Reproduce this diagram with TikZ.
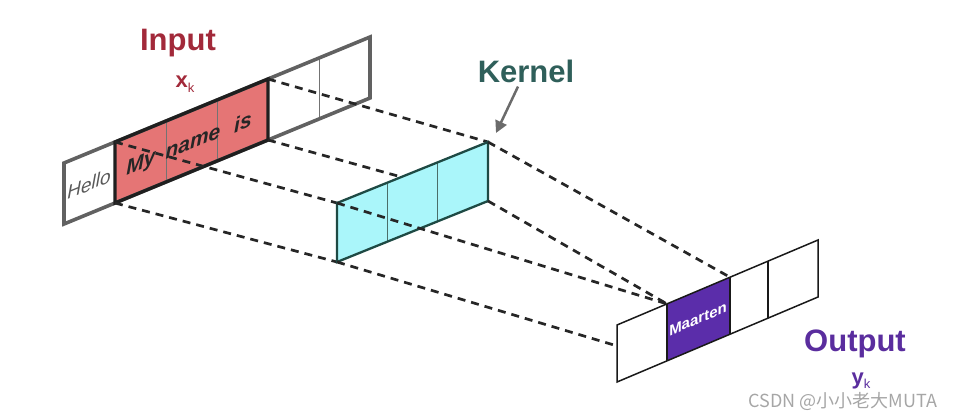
\documentclass[tikz,border=0pt]{standalone}
\usepackage{fontspec}
\setmainfont{Liberation Sans}
\newfontfamily\cjk{Noto Sans CJK SC}
\usetikzlibrary{arrows.meta}
\definecolor{inred}{HTML}{A2293A}
\definecolor{redfill}{HTML}{E57575}
\definecolor{kteal}{HTML}{2F5F5A}
\definecolor{kfill}{HTML}{AAF6FA}
\definecolor{kborder}{HTML}{1E4A44}
\definecolor{opurple}{HTML}{5A2D9E}
\definecolor{pfill}{HTML}{5B2DAA}
\tikzset{
  dline/.style={line width=2.7pt, color=black!85, dash pattern=on 8pt off 6pt},
  title/.style={font=\fontsize{31}{33}\selectfont\bfseries, inner sep=0pt},
  celltext/.style={inner sep=0pt, yslant=0.41},
}
\begin{document}
\begin{tikzpicture}[x=1pt,y=-1pt]
\useasboundingbox (0,0) rectangle (953,416);
% ---------- input strip corners
\coordinate (i0t) at (64,163);   \coordinate (i0b) at (64,224);
\coordinate (i1t) at (115,142);  \coordinate (i1b) at (115,203);
\coordinate (i2t) at (166,121);  \coordinate (i2b) at (166,182);
\coordinate (i3t) at (217,100);  \coordinate (i3b) at (217,161);
\coordinate (i4t) at (268,79);   \coordinate (i4b) at (268,140);
\coordinate (i5t) at (319,58);   \coordinate (i5b) at (319,119);
\coordinate (i6t) at (370,37);   \coordinate (i6b) at (370,98);
% ---------- kernel corners
\coordinate (k0t) at (337,203);  \coordinate (k0b) at (337,262);
\coordinate (k1t) at (387.3,182.7); \coordinate (k1b) at (387.3,241.7);
\coordinate (k2t) at (437.7,162.3); \coordinate (k2b) at (437.7,221.3);
\coordinate (k3t) at (488,142);  \coordinate (k3b) at (488,201);
% ---------- output corners
\coordinate (o0t) at (617,325);  \coordinate (o0b) at (617,382);
\coordinate (o1t) at (667,303.9); \coordinate (o1b) at (667,360.9);
\coordinate (o2t) at (730,277.2); \coordinate (o2b) at (730,334.2);
\coordinate (o3t) at (768,261.1); \coordinate (o3b) at (768,318.1);
\coordinate (o4t) at (818,240);  \coordinate (o4b) at (818,297);

% ---------- input strip
\fill[white] (i0t) -- (i6t) -- (i6b) -- (i0b) -- cycle;
\fill[redfill] (i1t) -- (i4t) -- (i4b) -- (i1b) -- cycle;
\draw[line width=0.9pt, color=black!55] (i2t) -- (i2b) (i3t) -- (i3b) (i5t) -- (i5b);
\draw[line width=3.6pt, color=black!62, line join=miter] (i0t) -- (i6t) -- (i6b) -- (i0b) -- cycle;
\draw[line width=3.3pt, color=black!88, line join=miter] (i1t) -- (i4t) -- (i4b) -- (i1b) -- cycle;

% ---------- dashed lines input -> kernel
\draw[dline] (i1t) -- (k0t);
\draw[dline] (i1b) -- (k0b);
\draw[dline] (i4t) -- (k3t);
\draw[dline] (i4b) -- (k3b);

% ---------- kernel
\fill[kfill] (k0t) -- (k3t) -- (k3b) -- (k0b) -- cycle;
\draw[line width=1pt, color=kborder!80] (k1t) -- (k1b) (k2t) -- (k2b);
\draw[line width=2.3pt, color=kborder, line join=miter] (k0t) -- (k3t) -- (k3b) -- (k0b) -- cycle;

% ---------- dashed lines kernel -> output
\draw[dline] (k0t) -- (o1t);
\draw[dline] (k3b) -- (o1t);
\draw[dline] (k3t) -- (o2t);
\draw[dline] (k0b) -- (o1b);

% ---------- output strip
\fill[white] (o0t) -- (o4t) -- (o4b) -- (o0b) -- cycle;
\fill[pfill] (o1t) -- (o2t) -- (o2b) -- (o1b) -- cycle;
\draw[line width=1.5pt, color=black!90] (o1t) -- (o1b) (o2t) -- (o2b) (o3t) -- (o3b);
\draw[line width=1.5pt, color=black!90, line join=miter] (o0t) -- (o4t) -- (o4b) -- (o0b) -- cycle;

% ---------- cell texts
\node[celltext, font=\fontsize{19}{21}\selectfont\itshape, text=black!65] (hello) at (89,184) {Hello};
\node[celltext, font=\fontsize{21}{23}\selectfont\bfseries\itshape, text=black!85] (my) at (141,164) {My};
\node[celltext, font=\fontsize{21}{23}\selectfont\bfseries\itshape, text=black!85] (name) at (193,143) {name};
\node[celltext, font=\fontsize{21}{23}\selectfont\bfseries\itshape, text=black!85] (is) at (243,122) {is};
\node[inner sep=0pt, yslant=0.42, font=\fontsize{15}{17}\selectfont\bfseries, text=white] (maarten) at (698,319) {Maarten};

% ---------- titles
\node[title, text=inred] (input) at (178,43) {Input};
\node[inner sep=0pt, text=inred, anchor=base] (xk) at (185,87) {\fontsize{22}{22}\selectfont\bfseries x\raisebox{-5pt}{\fontsize{13}{13}\selectfont\mdseries k}};
\node[title, text=kteal] (kernel) at (526,71) {Kernel};
\node[title, text=opurple] (output) at (855,344) {Output};
\node[inner sep=0pt, text=opurple, anchor=base] (yk) at (861,384) {\fontsize{22}{22}\selectfont\bfseries y\raisebox{-4pt}{\fontsize{13}{13}\selectfont\mdseries k}};

% ---------- kernel arrow
\coordinate (karrowtip) at (496,133);
\draw[-{Triangle[length=12pt,width=12pt]}, line width=2.5pt, color=black!58]
  ([xshift=-8pt,yshift=-4pt]kernel.south) -- (karrowtip);

% ---------- watermark
\node[inner sep=0pt, text=black!35, font=\cjk\fontsize{18}{20}\selectfont] (wm) at (843,401) {CSDN @小小老大MUTA};
\end{tikzpicture}
\end{document}
